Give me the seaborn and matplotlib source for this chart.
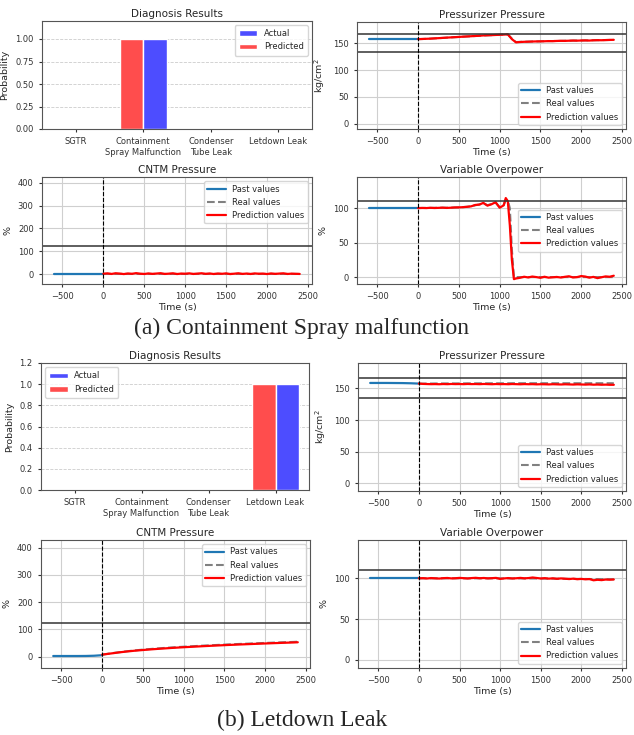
import numpy as np
import pandas as pd
import matplotlib
matplotlib.use("Agg")
import matplotlib.pyplot as plt
import seaborn as sns

# ---- data ----
categories = ["SGTR", "Containment\nSpray Malfunction", "Condenser\nTube Leak", "Letdown Leak"]
prob_a_actual = [0, 1, 0, 0]
prob_a_pred = [0, 1, 0, 0]
prob_b_actual = [0, 0, 0, 1]
prob_b_pred = [0, 0, 0, 1]

t_past = [-600, -500, -400, -300, -200, -100, 0]
t_future = list(range(0, 2401, 50))

# (a) Containment spray malfunction
pp_a_past = [158, 158, 158, 158, 158, 158, 158]
pp_a_pred = [158.0, 158.3, 158.6, 158.9, 159.4, 159.8, 160.3, 160.8, 161.2, 161.7, 162.1,
             162.6, 163.0, 163.4, 163.9, 164.3, 164.9, 165.2, 165.4, 165.8, 166.1,
             166.4, 166.9, 158.0, 152.0, 152.6, 153.0, 153.2, 153.5, 153.7, 153.8,
             154.0, 154.3, 154.2, 154.6, 154.8, 154.7, 155.0, 155.3, 155.1, 155.4,
             155.6, 155.3, 155.8, 156.0, 155.9, 156.2, 156.5, 156.7]
pp_a_real = [158.0, 158.2, 158.5, 158.9, 159.3, 159.8, 160.2, 160.7, 161.2, 161.6, 162.1,
             162.5, 163.0, 163.4, 163.8, 164.3, 164.7, 165.1, 165.5, 165.8, 166.1,
             166.5, 166.8, 159.0, 152.5, 152.8, 153.1, 153.3, 153.5, 153.7, 153.9,
             154.1, 154.3, 154.4, 154.6, 154.7, 154.9, 155.0, 155.2, 155.3, 155.5,
             155.6, 155.7, 155.9, 156.0, 156.1, 156.3, 156.4, 156.6]

cntm_a_past = [1.0, 1.0, 1.0, 1.0, 1.0, 1.0, 1.0]
cntm_a_pred = [2.0, 3.5, 1.0, 4.0, 2.5, 0.5, 3.0, 1.5, 4.5, 2.0, 0.8,
               3.2, 1.2, 2.8, 4.2, 1.0, 2.2, 3.8, 0.6, 2.6, 1.8,
               3.6, 0.9, 2.4, 4.0, 1.4, 3.0, 0.7, 2.9, 1.6, 3.4,
               0.5, 2.1, 3.9, 1.1, 2.7, 0.8, 3.3, 1.9, 2.5, 0.6,
               3.1, 1.3, 2.6, 3.7, 0.9, 2.3, 1.5, 1.0]
cntm_a_real = [1.0, 1.0, 1.1, 1.0, 1.0, 1.1, 1.0, 1.0, 1.1, 1.0, 1.0,
               1.1, 1.0, 1.0, 1.1, 1.0, 1.0, 1.1, 1.0, 1.0, 1.1,
               1.0, 1.0, 1.1, 1.0, 1.0, 1.1, 1.0, 1.0, 1.1, 1.0,
               1.0, 1.1, 1.0, 1.0, 1.1, 1.0, 1.0, 1.1, 1.0, 1.0,
               1.1, 1.0, 1.0, 1.1, 1.0, 1.0, 1.1, 1.0]

vo_a_past = [100, 100, 100, 100, 100, 100, 100]
t_vo_a = [0, 50, 100, 150, 200, 250, 300, 350, 400, 450, 500,
          550, 600, 650, 700, 750, 800, 850, 900, 950, 1000, 1050,
          1075, 1100, 1125, 1150, 1175,
          1200, 1250, 1300, 1350, 1400, 1450, 1500, 1550, 1600, 1650, 1700, 1750,
          1800, 1850, 1900, 1950, 2000, 2050, 2100, 2150, 2200, 2250, 2300, 2350, 2400]
vo_a_pred = [100.0, 100.2, 100.0, 100.4, 100.1, 100.3, 100.6, 100.2, 100.5, 100.9, 101.0,
             101.3, 101.8, 102.5, 104.5, 105.0, 107.5, 103.5, 105.5, 108.5, 100.5, 104.0,
             114.5, 110.0, 75.0, 25.0, -3.0,
             -2.0, -1.0, 0.5, -0.5, 0.8, 0.0, -1.0, 0.5, -0.8, -0.3, 0.2, -0.6,
             0.4, 1.2, -0.5, 0.0, 1.5, 0.8, -0.8, 0.3, -1.5, -0.2, 1.0, 0.5, 2.0]
vo_a_real = [100.0, 100.1, 100.2, 100.2, 100.3, 100.4, 100.5, 100.5, 100.6, 100.8, 101.0,
             101.4, 101.9, 102.6, 104.0, 105.2, 106.8, 104.2, 105.8, 107.8, 101.5, 104.5,
             112.0, 111.0, 100.0, 40.0, 0.0,
             0.0, 0.0, 0.0, 0.0, 0.0, 0.0, 0.0, 0.0, 0.0, 0.0, 0.0, 0.0,
             0.0, 0.0, 0.0, 0.0, 0.0, 0.0, 0.0, 0.0, 0.0, 0.0, 0.0, 0.0, 0.0]

# (b) Letdown leak
pp_b_past = [158.5, 158.5, 158.5, 158.4, 158.3, 158.0, 157.5]
pp_b_pred = [157.5, 157.0, 156.8, 156.6, 156.7, 156.5, 156.8, 156.6, 156.9, 156.7, 156.8,
             156.6, 156.9, 156.7, 156.8, 156.6, 156.9, 156.7, 156.5, 156.8, 156.6,
             156.7, 156.5, 156.8, 156.6, 156.4, 156.7, 156.5, 156.6, 156.3, 156.5,
             156.4, 156.2, 156.5, 156.3, 156.1, 156.4, 156.2, 156.0, 156.3, 156.1,
             155.9, 156.2, 155.8, 156.0, 155.7, 155.9, 155.6, 155.6]
pp_b_real = [157.5, 157.5, 157.6, 157.6, 157.7, 157.7, 157.7, 157.8, 157.8, 157.8, 157.8,
             157.9, 157.9, 157.9, 157.9, 158.0, 158.0, 158.0, 158.0, 158.0, 158.0,
             158.0, 158.0, 158.1, 158.1, 158.1, 158.1, 158.1, 158.1, 158.1, 158.1,
             158.1, 158.1, 158.1, 158.1, 158.1, 158.1, 158.1, 158.1, 158.1, 158.1,
             158.1, 158.1, 158.1, 158.1, 158.1, 158.1, 158.1, 158.1]

cntm_b_past = [2.0, 2.0, 2.0, 2.0, 2.2, 3.0, 5.0]
cntm_b_pred = [7.0, 9.0, 11.0, 13.0, 15.0, 16.8, 18.5, 20.0, 21.5, 22.8, 24.0,
               25.2, 26.4, 27.5, 28.6, 29.6, 30.6, 31.6, 32.5, 33.4, 34.3,
               35.1, 35.9, 36.7, 37.5, 38.3, 39.0, 39.8, 40.5, 41.2, 41.9,
               42.6, 43.2, 43.9, 44.5, 45.1, 45.7, 46.3, 46.9, 47.5, 48.1,
               48.6, 49.2, 49.7, 50.3, 50.8, 51.3, 51.8, 52.5]
cntm_b_real = [7.0, 9.3, 11.5, 13.6, 15.6, 17.5, 19.3, 21.0, 22.6, 24.1, 25.5,
               26.8, 28.0, 29.2, 30.3, 31.4, 32.4, 33.4, 34.4, 35.3, 36.2,
               37.1, 37.9, 38.7, 39.5, 40.3, 41.0, 41.8, 42.5, 43.2, 43.9,
               44.6, 45.2, 45.9, 46.5, 47.1, 47.7, 48.3, 48.9, 49.5, 50.1,
               50.6, 51.2, 51.7, 52.3, 52.8, 53.3, 53.8, 54.5]

vo_b_past = [100, 100, 100, 100, 100, 100, 100]
vo_b_pred = [100.0, 100.2, 99.8, 100.3, 100.0, 99.7, 100.2, 100.4, 99.9, 100.1, 100.5,
             100.2, 99.8, 100.3, 100.6, 100.1, 100.4, 99.9, 100.2, 100.5, 99.3,
             99.9, 100.3, 99.8, 100.1, 100.5, 100.0, 100.3, 101.0, 100.4, 99.8,
             100.2, 99.6, 100.0, 99.4, 99.9, 99.5, 99.1, 99.6, 98.9, 99.3,
             98.8, 99.1, 97.6, 98.2, 97.8, 98.5, 98.3, 98.6]
vo_b_real = [100.0, 100.0, 100.0, 100.0, 100.0, 100.0, 100.0, 100.0, 100.0, 100.0, 100.0,
             100.0, 100.0, 100.0, 100.0, 100.0, 100.0, 100.0, 100.0, 100.0, 100.0,
             99.9, 99.9, 99.9, 99.9, 99.9, 99.8, 99.8, 99.8, 99.8, 99.7,
             99.7, 99.6, 99.6, 99.5, 99.5, 99.4, 99.4, 99.3, 99.3, 99.2,
             99.2, 99.1, 99.1, 99.0, 99.0, 98.9, 98.9, 98.8]

pp_limits = [167, 134]
cntm_limit = 124
vo_limit = 110

# ---- style ----
sns.set_style("ticks")
plt.rcParams["font.family"] = ["DejaVu Sans"]
plt.rcParams["axes.edgecolor"] = "#555555"
plt.rcParams["xtick.color"] = "#333333"
plt.rcParams["ytick.color"] = "#333333"
plt.rcParams["xtick.labelsize"] = 6
plt.rcParams["ytick.labelsize"] = 6
plt.rcParams["xtick.major.size"] = 2.5
plt.rcParams["ytick.major.size"] = 2.5
plt.rcParams["axes.linewidth"] = 0.8

W, H = 634, 735
fig = plt.figure(figsize=(W / 100, H / 100), dpi=100)


def add_ax(left, right, top, bottom):
    return fig.add_axes([left / W, 1 - bottom / H, (right - left) / W, (bottom - top) / H])


RED = (1.0, 0.3, 0.3)
BLUE = (0.3, 0.3, 1.0)


def diag_panel(ax, actual, pred, legend_loc, yticks):
    df = pd.DataFrame({
        "cat": categories * 2,
        "prob": list(pred) + list(actual),
        "series": ["Predicted"] * 4 + ["Actual"] * 4,
    })
    sns.barplot(data=df, x="cat", y="prob", hue="series", hue_order=["Predicted", "Actual"],
                palette={"Predicted": RED, "Actual": BLUE}, width=0.7, saturation=1,
                ax=ax)
    ax.set_ylim(0, 1.2)
    ax.set_yticks(yticks)
    ax.yaxis.grid(True, linestyle="--", color="#cccccc", linewidth=0.6)
    ax.set_axisbelow(True)
    ax.set_xlabel("")
    ax.set_ylabel("Probability", fontsize=6.8)
    ax.set_title("Diagnosis Results", fontsize=7.5, pad=3)
    h, l = ax.get_legend_handles_labels()
    ax.legend([h[1], h[0]], [l[1], l[0]], loc=legend_loc, fontsize=6, frameon=True,
              handlelength=2.2, borderpad=0.5)


def line_panel(ax, tp, past, tf, real, pred, title, ylabel, limits, ylim, yticks, legend_loc,
               t_real=None):
    if t_real is None:
        t_real = tf
    sns.lineplot(x=tp, y=past, ax=ax, color="#1f77b4", linewidth=1.6, label="Past values")
    sns.lineplot(x=t_real, y=real, ax=ax, color="gray", linewidth=1.5, linestyle="--",
                 label="Real values")
    sns.lineplot(x=tf, y=pred, ax=ax, color="red", linewidth=1.6, label="Prediction values")
    for v in limits:
        ax.axhline(v, color="#333333", linewidth=1.1)
    ax.axvline(0, color="k", linestyle="--", linewidth=0.8)
    ax.set_xlim(-750, 2550)
    ax.set_xticks([-500, 0, 500, 1000, 1500, 2000, 2500])
    ax.set_ylim(*ylim)
    ax.set_yticks(yticks)
    ax.grid(True, color="#cfcfcf", linewidth=0.8)
    ax.set_axisbelow(True)
    ax.set_title(title, fontsize=7.5, pad=3)
    ax.set_xlabel("Time (s)", fontsize=6.8, labelpad=1)
    ax.set_ylabel(ylabel, fontsize=6.8)
    ax.legend(loc=legend_loc, fontsize=6, handlelength=2.2, borderpad=0.4)


# (a)
ax1 = add_ax(42, 312, 21, 129)
diag_panel(ax1, prob_a_actual, prob_a_pred, "upper right", [0, 0.25, 0.5, 0.75, 1.0])
ax1.set_yticklabels(["0.00", "0.25", "0.50", "0.75", "1.00"])

ax2 = add_ax(357, 626, 22, 129)
line_panel(ax2, t_past, pp_a_past, t_future, pp_a_real, pp_a_pred, "Pressurizer Pressure",
           "kg/cm$^2$", pp_limits, (-10, 190), [0, 50, 100, 150], "lower right")

ax3 = add_ax(42, 312, 177, 284)
line_panel(ax3, t_past, cntm_a_past, t_future, cntm_a_real, cntm_a_pred, "CNTM Pressure",
           "%", [cntm_limit], (-43, 425), [0, 100, 200, 300, 400], "upper right")

ax4 = add_ax(357, 626, 177, 284)
line_panel(ax4, t_past, vo_a_past, t_vo_a, vo_a_real, vo_a_pred, "Variable Overpower",
           "%", [vo_limit], (-10, 145), [0, 50, 100], "center right")

fig.text(302 / W, 1 - 328 / H, "(a) Containment Spray malfunction", ha="center", va="center",
         fontsize=17, family="Liberation Serif")

# (b)
ax5 = add_ax(41, 309, 363, 490)
diag_panel(ax5, prob_b_actual, prob_b_pred, "upper left", [0, 0.2, 0.4, 0.6, 0.8, 1.0, 1.2])

ax6 = add_ax(358, 626, 363, 491)
line_panel(ax6, t_past, pp_b_past, t_future, pp_b_real, pp_b_pred, "Pressurizer Pressure",
           "kg/cm$^2$", pp_limits, (-12, 190), [0, 50, 100, 150], "lower right")

ax7 = add_ax(41, 310, 540, 668)
line_panel(ax7, t_past, cntm_b_past, t_future, cntm_b_real, cntm_b_pred, "CNTM Pressure",
           "%", [cntm_limit], (-42, 428), [0, 100, 200, 300, 400], "upper right")

ax8 = add_ax(358, 626, 540, 668)
line_panel(ax8, t_past, vo_b_past, t_future, vo_b_real, vo_b_pred, "Variable Overpower",
           "%", [vo_limit], (-10, 147), [0, 50, 100], "lower right")

fig.text(302 / W, 1 - 720 / H, "(b) Letdown Leak", ha="center", va="center",
         fontsize=17, family="Liberation Serif")

fig.savefig("out.png", dpi=100)
